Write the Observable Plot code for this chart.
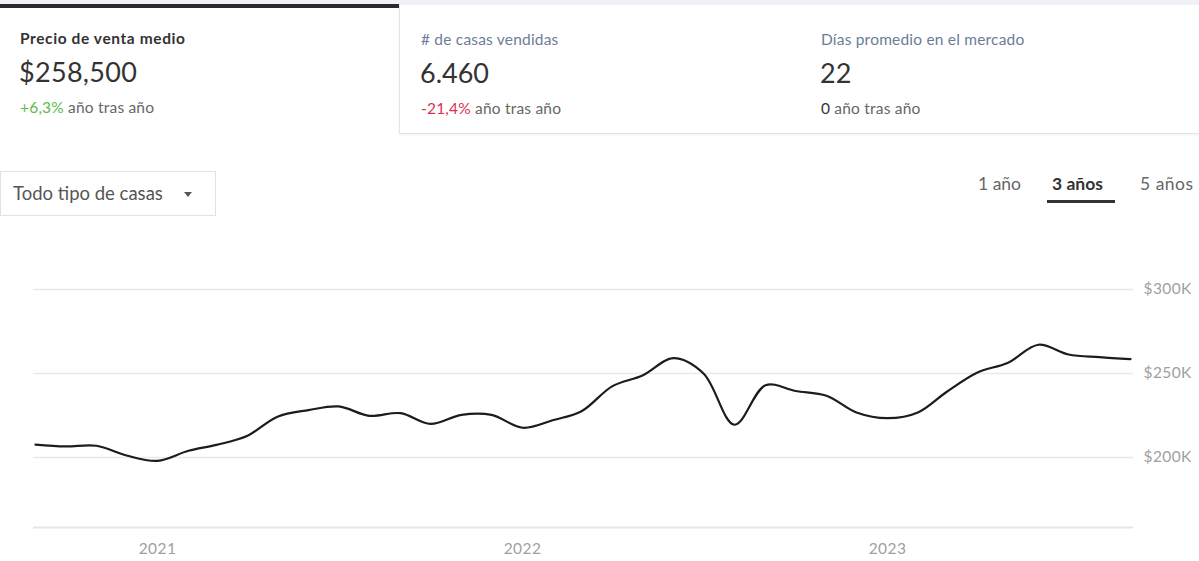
<!DOCTYPE html>
<html>
<head>
<meta charset="utf-8">
<script src="https://cdn.jsdelivr.net/npm/d3@7"></script>
<script src="https://cdn.jsdelivr.net/npm/@observablehq/plot@0.6"></script>
<style>
  html, body { margin: 0; padding: 0; background: #fff; }
  body { width: 1199px; height: 561px; position: relative; overflow: hidden; font-family: Lato, "Noto Sans", sans-serif; }
  .band { position: absolute; left: 0; top: 0; width: 1199px; height: 5px; background: #eef2f7; }
  .card { position: absolute; background: #fff; }
  .card1 { left: 0; width: 399px; border-top: 4px solid #2b2b2b; top: 4px; height: 140px; }
  .rest { position: absolute; left: 399px; top: 5px; width: 800px; height: 128px; border-left: 1px solid #e4e4e4; border-bottom: 1px solid #e4e4e4; box-shadow: 0 1px 2px rgba(0,0,0,0.06); }
  .t { position: absolute; top: 25px; font-size: 15.5px; white-space: nowrap; letter-spacing: 0.2px; }
  .v { position: absolute; top: 51px; font-size: 27px; color: #333; white-space: nowrap; }
  .c { position: absolute; top: 94px; font-size: 15.5px; color: #666; white-space: nowrap; letter-spacing: 0.2px; }
  .dd { position: absolute; left: 0; top: 171px; width: 216px; height: 45px; border: 1px solid #e2e2e2; box-sizing: border-box; }
  .dd span { position: absolute; left: 12px; top: 10px; font-size: 18.5px; color: #555; white-space: nowrap; }
  .dd i { position: absolute; left: 183px; top: 20px; width: 0; height: 0; border-left: 4px solid transparent; border-right: 4px solid transparent; border-top: 5px solid #555; }
  .tab { position: absolute; top: 173px; font-size: 17.5px; color: #666; white-space: nowrap; }
  .tab.on { color: #333; font-weight: 700; }
  .ul { position: absolute; left: 1047px; top: 200px; width: 68px; height: 3px; background: #333; }
  #chart { position: absolute; left: 0; top: 279px; }
</style>
</head>
<body>
<div class="band"></div>
<div class="card card1">
  <div class="t" style="left:20px;top:21px;color:#333;font-weight:700;letter-spacing:0.6px;">Precio de venta medio</div>
  <div class="v" style="left:19px;top:47px;letter-spacing:0.3px;">$258,500</div>
  <div class="c" style="left:20px;top:90px;"><span style="color:#5cba47">+6,3%</span> año tras año</div>
</div>
<div class="rest">
  <div class="t" style="left:21px;color:#6b7d96;">#&nbsp;de casas vendidas</div>
  <div class="v" style="left:20px;">6.460</div>
  <div class="c" style="left:21px;"><span style="color:#d9304f">-21,4%</span> año tras año</div>
  <div class="t" style="left:421px;color:#6b7d96;">Días promedio en el mercado</div>
  <div class="v" style="left:420px;">22</div>
  <div class="c" style="left:421px;"><span style="color:#333">0</span> año tras año</div>
</div>
<div class="dd"><span>Todo tipo de casas</span><i></i></div>
<div class="tab" style="left:978px;">1 año</div>
<div class="tab on" style="left:1052px;">3 años</div>
<div class="tab" style="left:1140px;letter-spacing:0.5px;">5 años</div>
<div class="ul"></div>
<div id="chart"></div>
<script>
const months = [
  "2020-09-01","2020-10-01","2020-11-01","2020-12-01",
  "2021-01-01","2021-02-01","2021-03-01","2021-04-01","2021-05-01","2021-06-01",
  "2021-07-01","2021-08-01","2021-09-01","2021-10-01","2021-11-01","2021-12-01",
  "2022-01-01","2022-02-01","2022-03-01","2022-04-01","2022-05-01","2022-06-01",
  "2022-07-01","2022-08-01","2022-09-01","2022-10-01","2022-11-01","2022-12-01",
  "2023-01-01","2023-02-01","2023-03-01","2023-04-01","2023-05-01","2023-06-01",
  "2023-07-01","2023-08-01","2023-09-01"
];
const prices = [
  207700, 206600, 207000, 201200,
  198000, 204000, 207500, 213000, 224300, 228200,
  230400, 224800, 226400, 220000, 225400, 225400,
  217700, 222300, 227500, 242500, 248800, 259100,
  250000, 219500, 243000, 239600, 236800, 226800,
  223400, 227000, 239000, 250600, 256300, 267100,
  261300, 259700, 258500
];
const yTicks = [200000, 250000, 300000];
const xTicks = ["2021-01-01", "2022-01-01", "2023-01-01"];
const xDomain = ["2020-08-30", "2023-09-04"];
const yDomain = [158333, 300000];

const data = months.map((m, i) => ({date: new Date(m + "T00:00:00Z"), price: prices[i]}));

const chart = Plot.plot({
  width: 1199,
  height: 282,
  marginLeft: 33,
  marginRight: 66,
  marginTop: 10,
  marginBottom: 34,
  style: {fontFamily: "Lato, 'Noto Sans', sans-serif", fontSize: "15.5px", letterSpacing: "0.4px", color: "#999", background: "transparent", overflow: "visible"},
  x: {type: "utc", domain: xDomain.map(d => new Date(d + "T00:00:00Z")), label: null},
  y: {domain: yDomain, label: null},
  marks: [
    Plot.ruleY(yTicks, {stroke: "#e9e9e9", strokeWidth: 1.5}),
    Plot.ruleY([yDomain[0]], {stroke: "#e6e6e6", strokeWidth: 2}),
    Plot.axisY(yTicks, {anchor: "right", tickSize: 0, tickPadding: 10, textAnchor: "start", tickFormat: d => "$" + (d / 1000) + "K", fill: "#a0a0a0", label: null}),
    Plot.axisX(xTicks.map(d => new Date(d + "T00:00:00Z")), {anchor: "bottom", tickSize: 0, tickPadding: 15, tickFormat: d => String(d.getUTCFullYear()), fill: "#a0a0a0", label: null}),
    Plot.line(data, {x: "date", y: "price", stroke: "#1c1c1c", strokeWidth: 2.2, curve: "catmull-rom"})
  ]
});
document.getElementById("chart").appendChild(chart);
</script>
</body>
</html>
